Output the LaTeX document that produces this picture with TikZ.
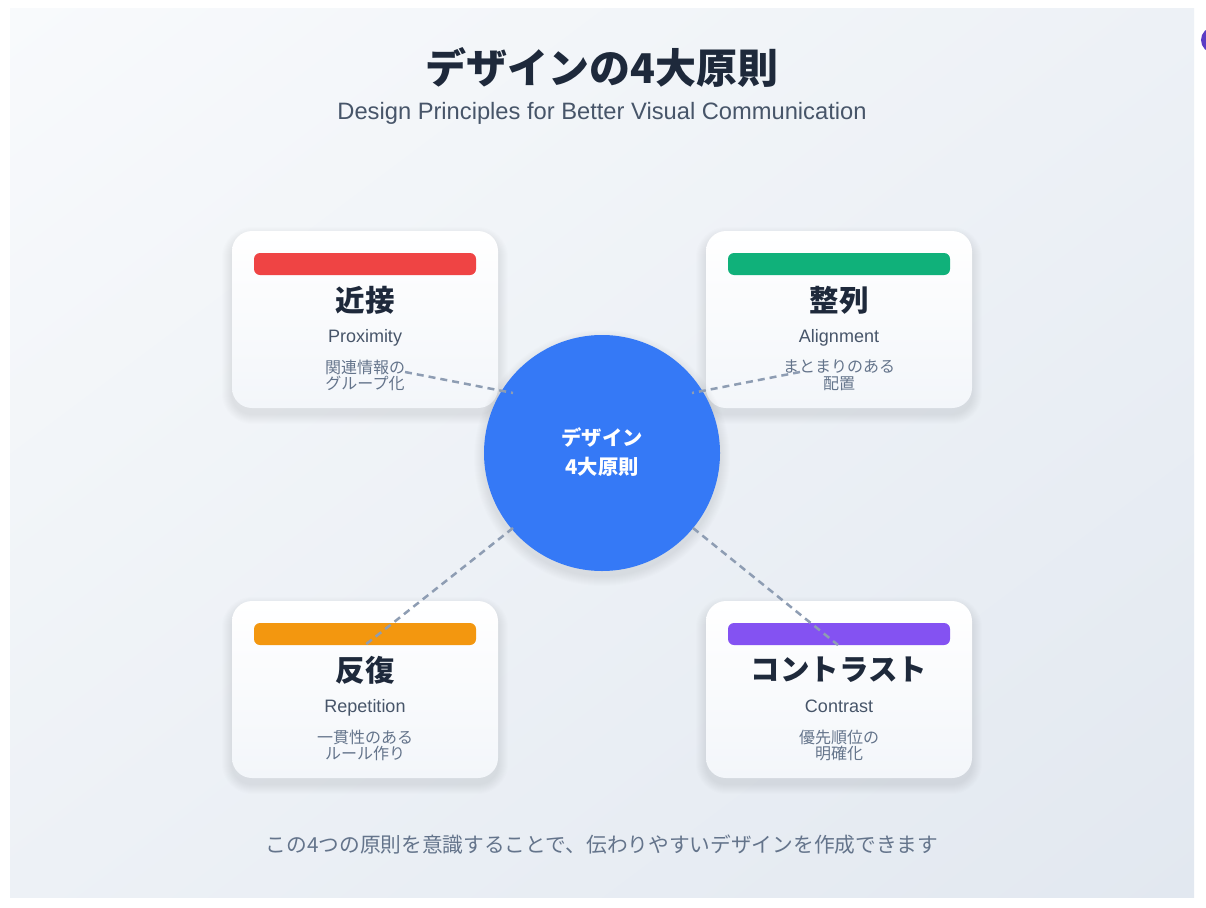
\documentclass[tikz,border=0pt]{standalone}
\usepackage{fontspec}
\setmainfont{Liberation Sans}
\newfontfamily\jp{Noto Sans CJK JP}
\usetikzlibrary{shadings}
\definecolor{bgtl}{HTML}{F8FAFC}
\definecolor{bgmid}{HTML}{EDF1F6}
\definecolor{bgbr}{HTML}{E2E8F0}
\definecolor{ink}{HTML}{1E293B}
\definecolor{subc}{HTML}{475569}
\definecolor{descc}{HTML}{64748B}
\definecolor{cardbot}{HTML}{F3F6FA}
\definecolor{linkc}{HTML}{8E9DB3}
\definecolor{hub}{HTML}{3579F6}
\definecolor{cred}{HTML}{EF4444}
\definecolor{cgreen}{HTML}{10B17A}
\definecolor{corange}{HTML}{F3970F}
\definecolor{cpurple}{HTML}{8452F2}
\definecolor{dotc}{HTML}{5B3CC4}
\newcommand\softshadow[4]{%
  \foreach \i in {1,...,10}{%
    \pgfmathsetmacro\rr{20+\i}%
    \fill[black, opacity=0.008, rounded corners=\rr pt] ({#1-#3-\i},{#2-#4-\i+6}) rectangle ({#1+#3+\i},{#2+#4+\i+6});
  }}
\begin{document}
\begin{tikzpicture}[x=1pt,y=-1pt,
  card/.style={rounded corners=20pt, minimum width=266pt, minimum height=177pt, inner sep=0pt, top color=white, bottom color=cardbot},
  bar/.style={rounded corners=6pt, minimum width=222pt, minimum height=22pt, inner sep=0pt},
  ctitle/.style={font=\jp\bfseries\fontsize{29.5}{33}\selectfont, text=ink, inner sep=0pt},
  csub/.style={font=\fontsize{18}{21}\selectfont, text=subc, inner sep=0pt, text height=13pt, text depth=4pt},
  cdesc/.style={font=\jp\fontsize{16}{16.5}\selectfont, text=descc, align=center, inner sep=0pt},
  link/.style={draw=linkc, line width=2.5pt, dash pattern=on 7pt off 5pt}]
\useasboundingbox (0,0) rectangle (1206,907);
\fill[white] (0,0) rectangle (1206,907);
\node[minimum width=1184pt, minimum height=888pt, inner sep=0pt, outer sep=0pt,
  upper left=bgtl, upper right=bgmid, lower left=bgmid, lower right=bgbr] (bg) at (602,453) {};
% purple dot at right edge
\begin{scope}
\clip (1195,0) rectangle (1206,907);
\fill[dotc] (1214,40) circle (13);
\end{scope}
% titles
\node[font=\jp\bfseries\fontsize{41}{46}\selectfont, text=ink] (title) at (602,68) {デザインの4大原則};
\node[font=\fontsize{23.7}{27}\selectfont, text=subc] (subtitle) at (602,113) {Design Principles for Better Visual Communication};
% shadows
\softshadow{365}{319.5}{133}{88.5}
\softshadow{839}{319.5}{133}{88.5}
\softshadow{365}{689.5}{133}{88.5}
\softshadow{839}{689.5}{133}{88.5}
% cards
\node[card] (c1) at (365,319.5) {};
\node[card] (c2) at (839,319.5) {};
\node[card] (c3) at (365,689.5) {};
\node[card] (c4) at (839,689.5) {};
\node[bar, fill=cred] (b1) at (365,264) {};
\node[bar, fill=cgreen] (b2) at (839,264) {};
\node[bar, fill=corange] (b3) at (365,634) {};
\node[bar, fill=cpurple] (b4) at (839,634) {};
% card texts
\node[ctitle] (t1) at (365,300) {近接};
\node[csub] (s1) at (365,338) {Proximity};
\node[cdesc] (d1) at (365,375.5) {関連情報の\\グループ化};
\node[ctitle] (t2) at (839,300) {整列};
\node[csub] (s2) at (839,338) {Alignment};
\node[cdesc] (d2) at (839,375.5) {まとまりのある\\配置};
\node[ctitle] (t3) at (365,670) {反復};
\node[csub] (s3) at (365,708) {Repetition};
\node[cdesc] (d3) at (365,745.5) {一貫性のある\\ルール作り};
\node[ctitle] (t4) at (839,670) {コントラスト};
\node[csub] (s4) at (839,708) {Contrast};
\node[cdesc] (d4) at (839,745.5) {優先順位の\\明確化};
% hub
\foreach \i in {1,...,10}{\fill[black, opacity=0.007] (602,458) circle ({118+\i});}
\node[circle, fill=hub, minimum size=236pt, inner sep=0pt] (hub) at (602,453) {};
\node[font=\jp\bfseries\fontsize{20.3}{29}\selectfont, text=white, align=center] (hubtext) at (602,452.5) {デザイン\\4大原則};
% connectors
\coordinate (a1) at (405,372); \coordinate (h1) at (513,393);
\coordinate (a2) at (800,372); \coordinate (h2) at (692,393);
\coordinate (a3) at (365,645); \coordinate (h3) at (513,528);
\coordinate (a4) at (838,645); \coordinate (h4) at (693,528);
\draw[link] (a1) -- (h1);
\draw[link] (a2) -- (h2);
\draw[link] (h3) -- (a3);
\draw[link] (h4) -- (a4);
% footer
\node[font=\jp\fontsize{20.7}{24}\selectfont, text=descc] (footer) at (602,845) {この4つの原則を意識することで、伝わりやすいデザインを作成できます};
\end{tikzpicture}
\end{document}
